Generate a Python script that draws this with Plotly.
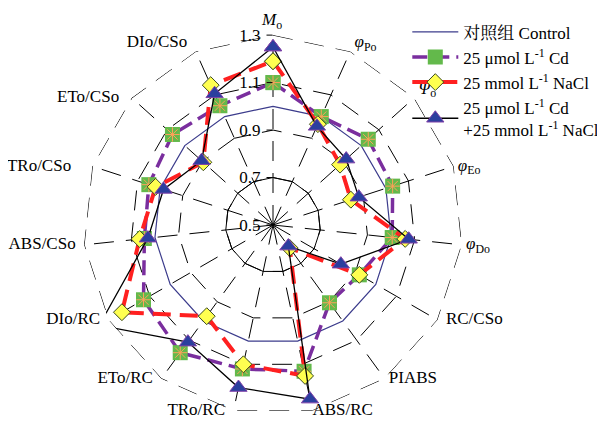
import plotly.graph_objects as go

categories = [
    "<i>M</i><sub>o</sub>", "<i>φ</i><sub>Po</sub>", "<i>Ψ</i><sub>o</sub>",
    "<i>φ</i><sub>Eo</sub>", "<i>φ</i><sub>Do</sub>", "RC/CSo", "PIABS",
    "ABS/RC", "TRo/RC", "ETo/RC", "DIo/RC", "ABS/CSo", "TRo/CSo",
    "ETo/CSo", "DIo/CSo",
]
control = [1.0] * 15
cd = [1.10, 1.00, 1.04, 1.03, 1.005, 0.92, 0.905, 1.13, 1.12, 1.165, 1.13, 1.045, 1.05, 1.07, 1.05]
nacl = [1.19, 0.965, 0.88, 0.845, 1.06, 0.92, 0.62, 1.15, 1.10, 0.975, 1.235, 1.065, 1.02, 0.895, 1.145]
cd_nacl = [1.25, 0.955, 0.915, 0.88, 1.075, 0.83, 0.61, 1.25, 1.20, 1.11, 1.345, 1.03, 0.985, 0.905, 1.105]
radial_ticks = [0.5, 0.7, 0.9, 1.1, 1.3]
solid_ring = 0.7
r_min, r_max = 0.5, 1.3

# label styling (placement around the outer ring); the top label is an annotation
label_pos = ["top center", "top right", "top right", "middle right", "middle right",
             "middle right", "middle right", "middle right", "middle left", "middle left",
             "middle left", "middle left", "middle left", "middle left", "top left"]
label_pad = [0, 1, 1, 1, 1, 2, 1, 0, 2, 2, 2, 2, 5, 3, 2]
NB = "\u00a0"

def pad_label(text, pos, n):
    if pos == "top center":
        return ""
    if pos.endswith("right"):
        return NB * n + text
    return text + NB * n

label_text = [pad_label(c, p, n) for c, p, n in zip(categories, label_pos, label_pad)]

def closed(v):
    return list(v) + [v[0]]

theta = closed(categories)
serif = "Liberation Serif, Times New Roman, Noto Serif CJK SC, Noto Sans CJK SC, serif"

fig = go.Figure()
# solid inner ring and dashed outer ring
fig.add_trace(go.Scatterpolar(r=closed([solid_ring] * 15), theta=theta, mode="lines",
                              line=dict(color="black", width=1), showlegend=False, hoverinfo="skip"))
fig.add_trace(go.Scatterpolar(r=closed([r_max] * 15), theta=theta, mode="lines",
                              line=dict(color="black", width=1, dash="20px,12px"),
                              showlegend=False, hoverinfo="skip", cliponaxis=False))
fig.add_trace(go.Scatterpolar(r=closed(control), theta=theta, mode="lines", name="对照组 Control",
                              line=dict(color="#3C3C8C", width=1.2), cliponaxis=False))
fig.add_trace(go.Scatterpolar(r=closed(cd), theta=theta, mode="lines+markers",
                              name="25 μmol L<sup>-1</sup> Cd",
                              line=dict(color="#7A2E9E", width=3.5, dash="15px,7px"),
                              marker=dict(symbol="square", size=15, color="#63B94B",
                                          line=dict(color="#63B94B", width=0)),
                              cliponaxis=False))
fig.add_trace(go.Scatterpolar(r=cd, theta=categories, mode="markers", showlegend=False,
                              marker=dict(symbol="asterisk-open", size=12,
                                          line=dict(color="#F02020", width=1)),
                              cliponaxis=False, hoverinfo="skip"))
fig.add_trace(go.Scatterpolar(r=closed(nacl), theta=theta, mode="lines+markers",
                              name="25 mmol L<sup>-1</sup> NaCl",
                              line=dict(color="#FF2020", width=4, dash="18px,9px"),
                              marker=dict(symbol="diamond", size=13, color="#FFFF50",
                                          line=dict(color="#3A4A20", width=1)),
                              cliponaxis=False))
fig.add_trace(go.Scatterpolar(r=closed(cd_nacl), theta=theta, mode="lines+markers",
                              name="25 μmol L<sup>-1</sup> Cd<br>+25 mmol L<sup>-1</sup> NaCl",
                              line=dict(color="black", width=1.3),
                              marker=dict(symbol="triangle-up", size=15, color="#2B3F9E",
                                          line=dict(color="#8040A8", width=1)),
                              cliponaxis=False))
# angular category labels
fig.add_trace(go.Scatterpolar(r=[r_max] * 15, theta=categories, mode="text", text=label_text,
                              textposition=label_pos, showlegend=False, hoverinfo="skip",
                              textfont=dict(family=serif, size=17, color="black"),
                              cliponaxis=False))

dom_x = [75 / 605, 455 / 605]
dom_y = [1 - 407 / 424, 1 - 27 / 424]
fig.add_annotation(text=categories[0], xref="paper", yref="paper",
                   x=(dom_x[0] + dom_x[1]) / 2 - 2 / 605, y=1 - 13 / 424,
                   xanchor="center", yanchor="middle", showarrow=False,
                   font=dict(family=serif, size=17, color="black"))

fig.update_layout(
    width=605, height=424,
    margin=dict(l=0, r=0, t=0, b=0),
    paper_bgcolor="white",
    font=dict(family=serif, size=17, color="black"),
    polar=dict(
        domain=dict(x=dom_x, y=dom_y),
        bgcolor="white",
        gridshape="linear",
        radialaxis=dict(range=[r_min, r_max + 0.0005], tickvals=radial_ticks, angle=90,
                        tickangle=90, side="counterclockwise", showline=False,
                        ticks="outside", ticklen=6, tickcolor="black", gridcolor="black",
                        griddash="20px,12px", gridwidth=1, tickfont=dict(family=serif, size=17)),
        angularaxis=dict(direction="clockwise", rotation=90, showline=False, ticks="",
                         showticklabels=False, gridcolor="black",
                         griddash="20px,12px", gridwidth=1),
    ),
    legend=dict(x=0.66, y=0.985, xanchor="left", yanchor="top", bgcolor="rgba(0,0,0,0)",
                itemwidth=46, font=dict(family=serif, size=17), tracegroupgap=0),
)
fig.write_html("out.html")
